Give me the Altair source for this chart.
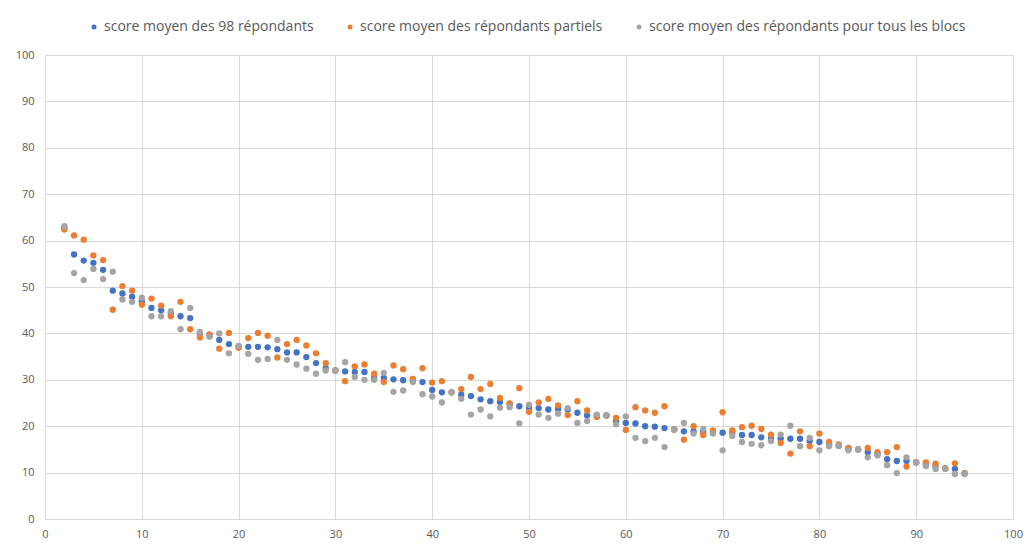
import altair as alt
import pandas as pd

series_names = [
    "score moyen des 98 répondants",
    "score moyen des répondants partiels",
    "score moyen des répondants pour tous les blocs",
]
series_colors = ["#4472C4", "#ED7D31", "#A5A5A5"]

x_values = list(range(2, 96))

blue = [63.0, 57.0, 55.7, 55.2, 53.7, 49.2, 48.6, 47.9, 46.9, 45.5,
        45.0, 44.3, 43.7, 43.3, 40.0, 39.6, 38.6, 37.7, 37.2, 37.1,
        37.1, 37.0, 36.6, 35.9, 35.9, 34.9, 33.6, 32.5, 32.0, 31.8,
        31.7, 31.7, 30.4, 30.4, 30.1, 29.9, 29.8, 29.5, 27.8, 27.3,
        27.3, 26.8, 26.5, 25.8, 25.4, 25.2, 24.8, 24.3, 24.0, 23.9,
        23.6, 23.7, 23.6, 22.9, 22.3, 22.3, 22.3, 21.1, 20.7, 20.6,
        20.0, 19.9, 19.6, 19.3, 18.9, 18.9, 18.8, 18.7, 18.6, 18.6,
        18.1, 18.1, 17.6, 17.3, 17.3, 17.3, 17.3, 16.8, 16.6, 16.1,
        15.8, 15.2, 15.0, 14.4, 14.0, 12.9, 12.5, 12.5, 12.2, 11.8,
        11.4, 10.9, 10.8, 9.8]

orange = [62.4, 61.1, 60.2, 56.8, 55.8, 45.1, 50.2, 49.2, 46.2, 47.5,
          46.0, 43.7, 46.8, 40.9, 39.1, 39.8, 36.7, 40.1, 36.9, 39.0,
          40.1, 39.5, 34.8, 37.7, 38.6, 37.4, 35.7, 33.6, 32.0, 29.7,
          32.9, 33.3, 31.3, 29.5, 33.1, 32.3, 30.2, 32.5, 29.4, 29.7,
          27.3, 28.0, 30.6, 28.0, 29.1, 26.1, 24.9, 28.2, 23.1, 25.1,
          25.9, 24.5, 22.4, 25.4, 23.4, 22.0, 22.3, 21.8, 19.2, 24.1,
          23.4, 22.9, 24.3, 19.3, 17.1, 20.0, 18.1, 19.1, 23.0, 19.1,
          19.8, 20.1, 19.4, 18.2, 16.4, 14.1, 18.9, 15.7, 18.4, 16.6,
          16.1, 15.3, 15.0, 15.3, 14.4, 14.4, 15.5, 11.3, 12.2, 12.2,
          11.9, 10.9, 12.0, 9.9]

gray = [63.1, 53.0, 51.5, 53.9, 51.7, 53.3, 47.3, 46.8, 47.7, 43.7,
        43.7, 44.8, 40.9, 45.5, 40.3, 39.3, 40.0, 35.7, 37.3, 35.6,
        34.3, 34.5, 38.6, 34.3, 33.3, 32.4, 31.3, 32.0, 31.9, 33.8,
        30.6, 30.0, 30.0, 31.5, 27.4, 27.7, 29.5, 26.9, 26.4, 25.1,
        27.3, 25.9, 22.5, 23.6, 22.1, 24.0, 24.1, 20.6, 24.6, 22.5,
        21.8, 22.7, 23.9, 20.7, 21.1, 22.5, 22.3, 20.4, 22.1, 17.5,
        16.8, 17.5, 15.5, 19.3, 20.7, 18.4, 19.4, 18.4, 14.8, 17.9,
        16.6, 16.2, 15.9, 16.8, 18.2, 20.1, 15.7, 17.5, 14.8, 15.7,
        15.8, 14.8, 15.0, 13.3, 13.7, 11.6, 9.9, 13.3, 12.2, 11.4,
        10.8, 10.8, 9.7, 9.7]

x_ticks = list(range(0, 101, 10))
y_ticks = list(range(0, 101, 10))

rows = []
for name, vals in zip(series_names, [blue, orange, gray]):
    for xv, yv in zip(x_values, vals):
        rows.append({"x": xv, "y": yv, "serie": name})
df = pd.DataFrame(rows)

FONT = "Open Sans"
TXT = "#595959"

chart = alt.Chart(df).mark_circle(size=40, opacity=1).encode(
    x=alt.X("x:Q", scale=alt.Scale(domain=[0, 100], nice=False),
            axis=alt.Axis(values=x_ticks, title=None, labelPadding=9,
                          ticks=False, domain=True, domainColor="#d9d9d9",
                          labelFlush=False)),
    y=alt.Y("y:Q", scale=alt.Scale(domain=[0, 100], nice=False),
            axis=alt.Axis(values=y_ticks, title=None, labelPadding=11,
                          ticks=False, domain=False)),
    color=alt.Color("serie:N",
                    scale=alt.Scale(domain=series_names, range=series_colors),
                    sort=series_names,
                    legend=alt.Legend(title=None, orient="none",
                                      direction="horizontal",
                                      legendX=42, legendY=-35,
                                      symbolType="circle", symbolSize=25,
                                      labelFontSize=14, labelFont=FONT,
                                      labelColor=TXT, labelOffset=3,
                                      columnPadding=29, labelLimit=500)),
).properties(
    width=968, height=464,
    autosize=alt.AutoSizeParams(type="none"),
    padding={"left": 37, "top": 47, "right": 12, "bottom": 22},
).configure_axis(
    gridColor="#d9d9d9", gridWidth=1, labelColor=TXT, labelFont=FONT,
    labelFontSize=11,
).configure_view(stroke=None)

chart.save("out.html", embed_options={"renderer": "svg", "actions": False})
